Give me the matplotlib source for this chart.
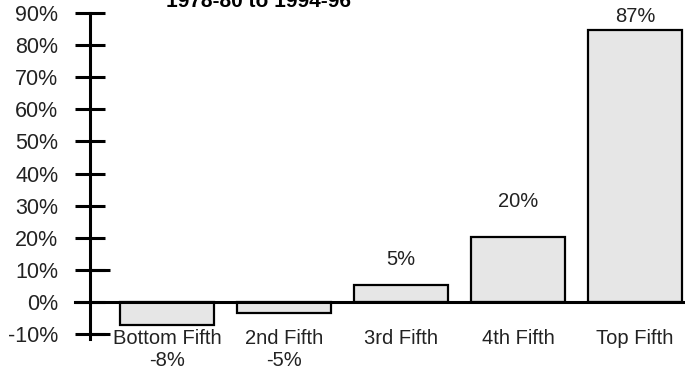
import numpy as np
import matplotlib
matplotlib.use('Agg')
import matplotlib.pyplot as plt
import matplotlib.transforms as mtransforms

plt.rcParams['font.family'] = ['Liberation Sans', 'DejaVu Sans']

title = '1978-80 to 1994-96'
categories = ['Bottom Fifth', '2nd Fifth', '3rd Fifth', '4th Fifth', 'Top Fifth']
bar_heights = [-7.2, -3.4, 5.3, 20.2, 84.7]
value_labels = ['-8%', '-5%', '5%', '20%', '87%']
yticks = np.arange(-10, 91, 10)

W, H = 685, 369
fig = plt.figure(figsize=(W/100, H/100), dpi=100)
ax = fig.add_axes([90/W, 1-339/H, 1-90/W, (339-13)/H])

x = np.arange(len(categories))
ax.bar(x, bar_heights, width=0.8, color='#e6e6e6', edgecolor='black', linewidth=1.6, zorder=2)

ax.set_xlim(-0.658, 4.427)
ax.set_ylim(-11.5, 90)
ax.set_yticks(yticks)
ax.set_yticklabels(['%d%%' % t for t in yticks], fontsize=15.5, color='#222222')
# the 10% and -10% ticks reach a little further to the right
ax.yaxis.remove_overlapping_locs = False
ax.set_yticks([-10, 10], minor=True)
ax.set_xticks([])
for s in ['top', 'right', 'bottom']:
    ax.spines[s].set_visible(False)
ax.spines['left'].set_linewidth(2.2)
ax.spines['left'].set_bounds(-11.5, 90)
ax.tick_params(axis='y', direction='inout', length=21.6, width=2.2, pad=12)
ax.tick_params(axis='y', which='minor', direction='in', length=14.4, width=2.2)

# zero line, starts at the tick's left end
ax.plot([-0.658 - 15/117, 4.427], [0, 0], color='black', lw=2.2, clip_on=False, zorder=3)

trans = mtransforms.blended_transform_factory(ax.transData, fig.transFigure)
for i, c in enumerate(categories):
    ax.text(x[i], 1-344/H, c, transform=trans, ha='center', va='baseline',
            fontsize=14.5, color='#222222')

offsets = [0, 0, 14.4, 21.6, 5.8]
for i, (h, lab) in enumerate(zip(bar_heights, value_labels)):
    if h < 0:
        ax.text(x[i], 1-366/H, lab, transform=trans, ha='center', va='baseline',
                fontsize=14.5, color='#222222')
    else:
        ax.annotate(lab, (x[i], h), xytext=(0, offsets[i]), textcoords='offset points',
                    ha='center', va='baseline', fontsize=14.5, color='#222222')

fig.text(258/W, 1-7/H, title, ha='center', va='baseline', fontsize=15, fontweight='bold')

fig.savefig('out.png', dpi=100)
